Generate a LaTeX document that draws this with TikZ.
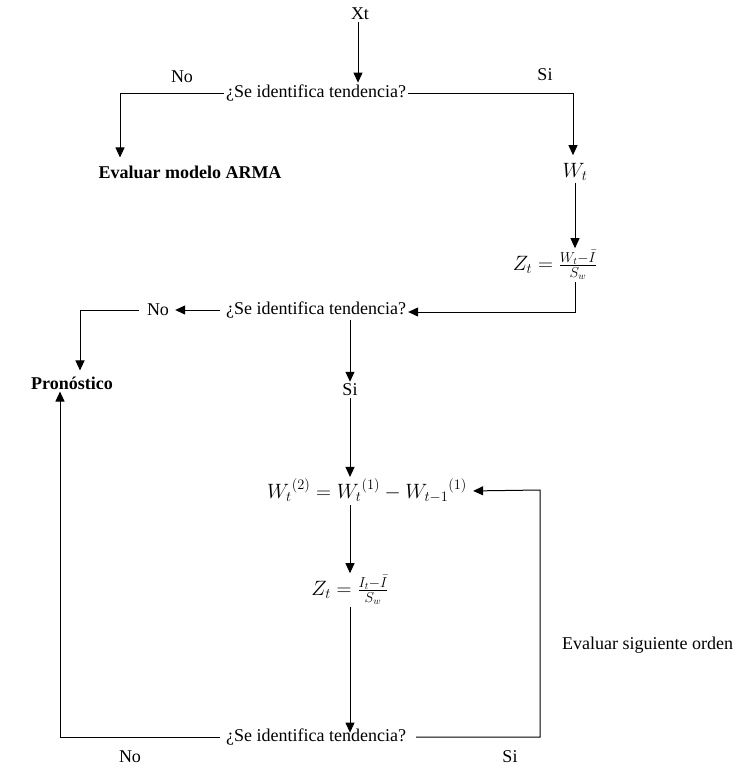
\documentclass[tikz,border=0pt]{standalone}
\usepackage{fontspec}
\setmainfont{Liberation Serif}
\usetikzlibrary{arrows.meta}

\begin{document}
\begin{tikzpicture}[
    x=1pt, y=-1pt,
    every node/.style = {font=\fontsize{18}{21}\selectfont, inner sep=2pt},
    titulo/.style = {font=\fontsize{18}{21}\selectfont\bfseries},
    formula/.style = {font=\fontsize{20}{24}\selectfont},
    flecha/.style = {draw, line width=1pt, -{Triangle[length=10pt,width=9pt]}}
  ]
  \useasboundingbox (0,0) rectangle (750,772);

  % nodos
  \node (xt) at (360,14) {Xt};
  \node (p1) at (316,93) {¿Se identifica tendencia?};
  \node (no1) at (182,77) {No};
  \node (si1) at (545,75) {Si};
  \node[titulo] (arma) at (190,172) {Evaluar modelo ARMA};
  \node[formula] (wt) at (575,172) {$W_t$};
  \node[formula] (z1) at (555,265) {$Z_t = \frac{W_t - \bar{I}}{S_w}$};
  \node (p2) at (316,310) {¿Se identifica tendencia?};
  \node (no2) at (158,310) {No};
  \node[titulo] (pron) at (72,383) {Pronóstico};
  \node (si2) at (350,390) {Si};
  \node[formula] (w2) at (367,491) {${W_t}^{(2)} = {W_t}^{(1)} - {W_{t-1}}^{(1)}$};
  \node[formula] (z2) at (350,590) {$Z_t = \frac{I_t - \bar{I}}{S_w}$};
  \node (p3) at (316,737) {¿Se identifica tendencia?};
  \node[anchor=west] (sig) at (560,645) {Evaluar siguiente orden};
  \node (no3) at (130,757) {No};
  \node (si3) at (510,757) {Si};

  % esquinas
  \coordinate (c1) at (120,93);
  \coordinate (c2) at (573,93);
  \coordinate (c3) at (575,312);
  \coordinate (c4) at (80,310);
  \coordinate (c5) at (540,737);
  \coordinate (c6) at (540,490);
  \coordinate (c7) at (60,737);

  % conectores
  \draw[flecha] (xt.south -| 358,0) -- (358,0 |- p1.north);
  \draw[flecha, shorten >=6pt] (p1.west) -- (c1) -- (c1 |- arma.north);
  \draw[flecha, shorten >=6pt] (p1.east) -- (c2) -- (c2 |- wt.north);
  \draw[flecha] (wt.south -| c3) -- (c3 |- z1.north);
  \draw[flecha] (z1.south -| c3) -- (c3) -- (c3 -| p2.east);
  \draw[flecha, shorten <=4pt, shorten >=4pt] (p2.west) -- (no2.east);
  \draw[flecha, shorten <=6pt, shorten >=4pt] (no2.west) -- (c4) -- (c4 |- pron.north);
  \draw[flecha] (p2.south -| si2) -- (si2.north);
  \draw[flecha] (si2.south) -- (si2 |- w2.north);
  \draw[flecha] (w2.south -| si2) -- (si2 |- z2.north);
  \draw[flecha, shorten >=-6pt] (z2.south -| si2) -- (si2 |- p3.north);
  \draw[flecha, shorten <=8pt, shorten >=4pt] (p3.east) -- (c5) -- (c6) -- (w2.east);
  \draw[flecha, shorten <=4pt] (p3.west) -- (c7) -- (c7 |- pron.south);
\end{tikzpicture}
\end{document}
